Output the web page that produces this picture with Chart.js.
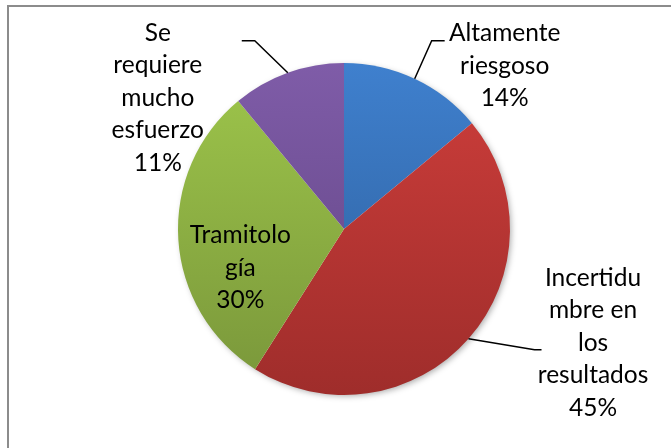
<!DOCTYPE html>
<html><head><meta charset="utf-8">
<script src="https://cdn.jsdelivr.net/npm/chart.js@4"></script>
<style>html,body{margin:0;padding:0;background:#fff;overflow:hidden}</style>
</head><body>
<canvas id="c" width="671" height="448"></canvas>
<script>
const categories = ["Altamente riesgoso", "Incertidumbre en los resultados", "Tramitología", "Se requiere mucho esfuerzo"];
const labelLines = [["Altamente", "riesgoso"], ["Incertidu", "mbre en", "los", "resultados"], ["Tramitolo", "gía"], ["Se", "requiere", "mucho", "esfuerzo"]];
const values = [14, 45, 30, 11];
const topColors = ["#3F80CE", "#CE3E3B", "#9EC64B", "#7F5CA8"];
const bottomColors = ["#2C5C97", "#9F2D2B", "#79963A", "#5F4381"];

// label placement relative to the slice's outer mid-point
const labelLayout = [
  { leader: [[17, -38], [30, -38]], text: [90, -13] },
  { leader: [[66, 11], [73, 11]], text: [124.5, 4] },
  { leader: null, text: [62, 28.5] },
  { leader: [[-33, -32], [-46, -32]], text: [-130, 25] }
];
const FONT = '24.5px Lato';
const LINE_H = 32.5;

function grad(ctx, i) {
  const ch = ctx.chart;
  const a = ch.chartArea;
  if (!a) return topColors[i];
  const g = ch.ctx.createLinearGradient(0, a.top, 0, a.bottom);
  g.addColorStop(0, topColors[i]);
  g.addColorStop(1, bottomColors[i]);
  return g;
}

const framePlugin = {
  id: 'frame',
  beforeDraw(chart) {
    const c = chart.ctx;
    c.save();
    c.fillStyle = '#fff';
    c.fillRect(0, 0, chart.width, chart.height);
    c.strokeStyle = '#8c8c8c';
    c.lineWidth = 2;
    c.strokeRect(8, 6, 700, 500);
    c.restore();
  },
  beforeDatasetsDraw(chart) {
    const c = chart.ctx;
    c.save();
    c.shadowColor = 'rgba(0,0,0,0.35)';
    c.shadowBlur = 6;
    c.shadowOffsetX = 2;
    c.shadowOffsetY = 2;
    const arc = chart.getDatasetMeta(0).data[0];
    c.fillStyle = '#fff';
    c.beginPath();
    c.arc(arc.x, arc.y, arc.outerRadius - 1, 0, Math.PI * 2);
    c.fill();
    c.restore();
  }
};

const labelPlugin = {
  id: 'sliceLabels',
  afterDatasetsDraw(chart) {
    const c = chart.ctx;
    const meta = chart.getDatasetMeta(0);
    const total = values.reduce((s, v) => s + v, 0);
    c.save();
    c.font = FONT;
    c.fillStyle = '#000';
    c.strokeStyle = '#000';
    c.lineWidth = 1.5;
    c.textAlign = 'center';
    c.textBaseline = 'middle';
    meta.data.forEach((arc, i) => {
      const mid = (arc.startAngle + arc.endAngle) / 2;
      const ex = arc.x + Math.cos(mid) * arc.outerRadius;
      const ey = arc.y + Math.sin(mid) * arc.outerRadius;
      const L = labelLayout[i];
      if (L.leader) {
        c.beginPath();
        c.moveTo(ex, ey);
        L.leader.forEach(p => c.lineTo(ex + p[0], ey + p[1]));
        c.stroke();
      }
      const lines = labelLines[i].concat([Math.round(values[i] / total * 100) + '%']);
      const cx = ex + L.text[0];
      const cy = ey + L.text[1];
      const y0 = cy - (lines.length - 1) * LINE_H / 2;
      lines.forEach((t, k) => c.fillText(t, cx, y0 + k * LINE_H));
    });
    c.restore();
  }
};

new Chart(document.getElementById('c'), {
  type: 'pie',
  data: {
    labels: categories,
    datasets: [{
      data: values,
      backgroundColor: ctx => grad(ctx, ctx.dataIndex),
      borderWidth: 0
    }]
  },
  options: {
    responsive: false,
    devicePixelRatio: 1,
    animation: false,
    layout: { padding: { top: 63, bottom: 53, left: 178, right: 161 } },
    plugins: { legend: { display: false }, tooltip: { enabled: false } }
  },
  plugins: [framePlugin, labelPlugin]
});
</script>
</body></html>
